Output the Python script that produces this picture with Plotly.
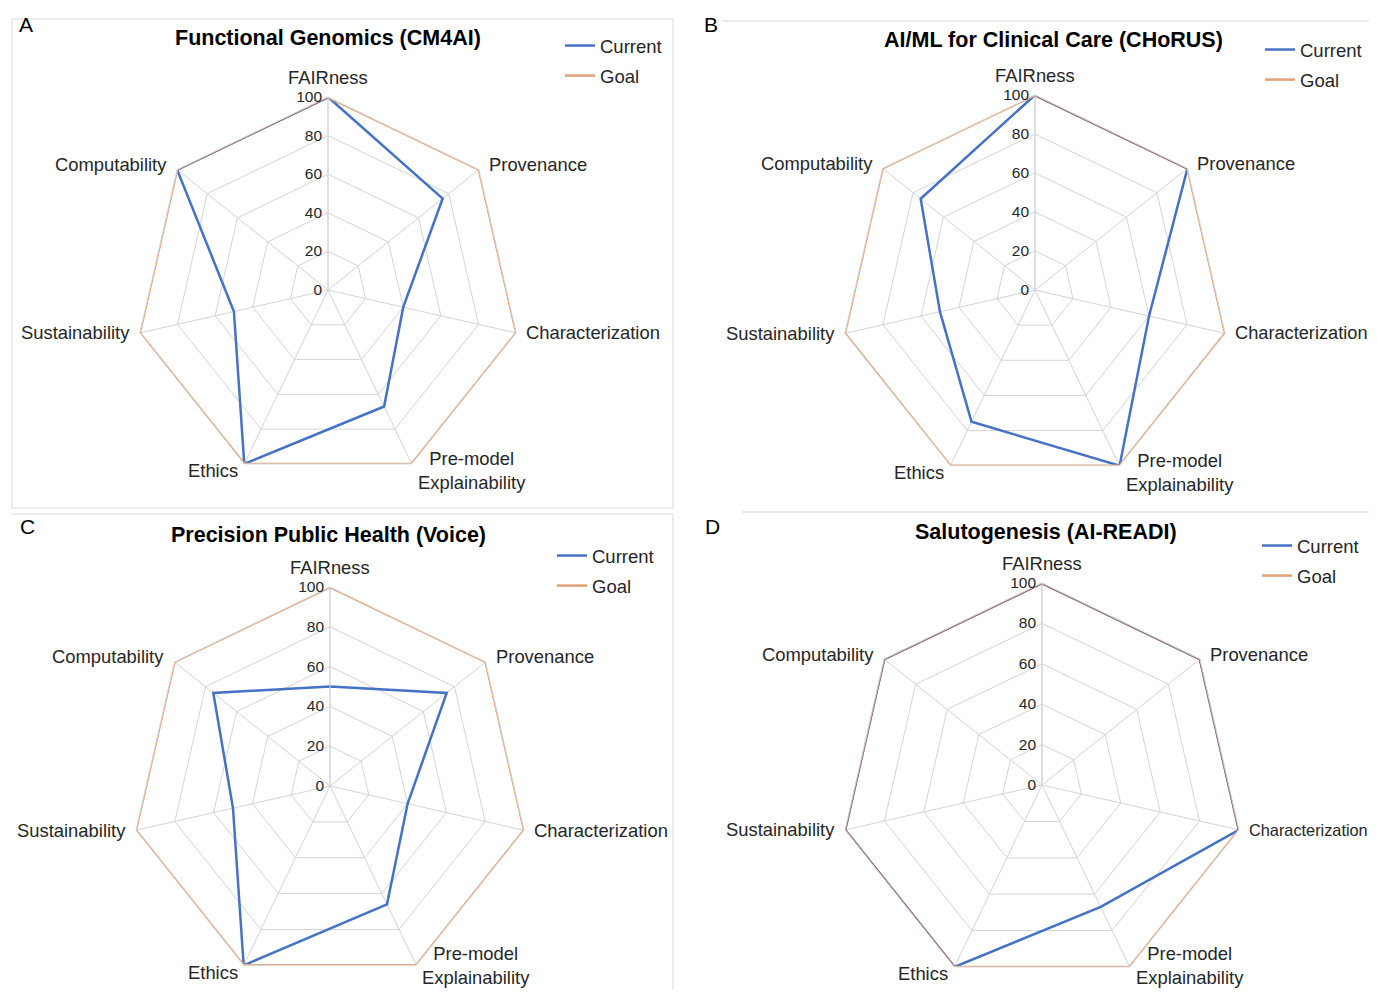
import math
import plotly.graph_objects as go

categories = ["FAIRness", "Provenance", "Characterization", "Pre-model<br>Explainability",
              "Ethics", "Sustainability", "Computability"]
radial_ticks = [0, 20, 40, 60, 80, 100]

titles = ["Functional Genomics (CM4AI)", "AI/ML for Clinical Care (CHoRUS)",
          "Precision Public Health (Voice)", "Salutogenesis (AI-READI)"]
panel_letters = ["A", "B", "C", "D"]

current_a = [100, 76, 40, 67, 100, 50, 100]
current_b = [100, 100, 60, 100, 75, 50, 75]
current_c = [50, 75, 40, 66, 100, 50, 75]
current_d = [100, 100, 100, 67, 100, 100, 100]
goal_a = [100, 100, 100, 100, 100, 100, 100]
goal_b = [100, 100, 100, 100, 100, 100, 100]
goal_c = [100, 100, 100, 100, 100, 100, 100]
goal_d = [100, 100, 100, 100, 100, 100, 100]

currents = [current_a, current_b, current_c, current_d]
goals = [goal_a, goal_b, goal_c, goal_d]

# page body has an 8px margin: draw into a figure that fits inside it
OFF = 8
W, H = 1377 - 2 * OFF, 998 - 2 * OFF
BLUE = "#4472C4"
GOAL = "#E2A276"
BOTH = "#8C6A80"   # where the two lines coincide
GRID = "#D4D4D4"
TEXT = "#262626"
FONT = "Liberation Sans, Arial, sans-serif"
LABEL_SIZE = 18.4


def px(x):
    return (x - OFF) / W


def py(y):
    return 1 - (y - OFF) / H


# polar domains in page pixels: (left, right, top, bottom)
dom_px = [(135, 521, 97, 483), (840, 1230, 95, 485), (131, 529, 587, 985), (840, 1244, 583, 987)]
title_px = [(328, 38), (1053, 40), (328, 535), (1046, 532)]
letter_px = [(26, 25), (711, 25), (27, 526), (712, 526)]
legend_px = [(560, 27), (1260, 31), (552, 537), (1257, 527)]

fig = go.Figure()
layout = dict(width=W, height=H, margin=dict(l=0, r=0, t=0, b=0, autoexpand=False),
              autosize=False, paper_bgcolor="white", plot_bgcolor="white",
              font=dict(family=FONT, color=TEXT))

annotations = []
n = len(categories)
for i in range(4):
    pname = "polar" if i == 0 else f"polar{i+1}"
    lname = "legend" if i == 0 else f"legend{i+1}"
    cats = categories + [categories[0]]
    cur = currents[i] + [currents[i][0]]
    gl = goals[i] + [goals[i][0]]
    # segments where the current line lies on the goal line
    both_r, both_t = [], []
    for k in range(n):
        if cur[k] == gl[k] and cur[k + 1] == gl[k + 1]:
            both_r += [cur[k], cur[k + 1], None]
            both_t += [cats[k], cats[k + 1], cats[k + 1]]
    fig.add_trace(go.Scatterpolar(r=cur, theta=cats, mode="lines", name="Current",
                                  legendgroup=f"cur{i}", legendrank=1,
                                  line=dict(color=BLUE, width=2.5), subplot=pname, legend=lname))
    fig.add_trace(go.Scatterpolar(r=gl, theta=cats, mode="lines", name="Goal",
                                  legendgroup=f"goal{i}", legendrank=2,
                                  line=dict(color=GOAL, width=2.5), subplot=pname, legend=lname))
    if both_r:
        fig.add_trace(go.Scatterpolar(r=both_r, theta=both_t, mode="lines", showlegend=False,
                                      connectgaps=False, hoverinfo="skip",
                                      line=dict(color=BOTH, width=2.5), subplot=pname))
    l, r, t, b = dom_px[i]
    layout[pname] = dict(
        domain=dict(x=[px(l), px(r)], y=[py(b), py(t)]),
        gridshape="linear", bgcolor="white",
        angularaxis=dict(rotation=90, direction="clockwise", categoryarray=categories,
                         categoryorder="array", linecolor=GRID, gridcolor=GRID,
                         showticklabels=False, ticks=""),
        radialaxis=dict(range=[0, 100], tickvals=radial_ticks, angle=90, tickangle=90,
                        side="counterclockwise", showline=True, linecolor=GRID,
                        gridcolor=GRID, tickfont=dict(size=15.5, color=TEXT), ticks=""),
    )
    # category labels placed beside the outer vertices, as in the source chart
    cx, cy, R = (l + r) / 2, (t + b) / 2, (r - l) / 2
    for k, name in enumerate(categories):
        th = 2 * math.pi * k / n
        s, c = math.sin(th), math.cos(th)
        vx, vy = cx + R * s, cy - R * c
        size = LABEL_SIZE
        if abs(s) < 0.1:
            ax, ay, xa, ya = vx, vy - 7, "center", "bottom"
        else:
            lower = c < -0.5
            gap = 4 if lower else 8
            ax = vx + gap if s > 0 else vx - gap
            xa = "left" if s > 0 else "right"
            ay = vy + (7 if lower else (-5 if c > 0.5 else 0))
            ya = "middle"
            # keep two-line labels inside the page
            nlines = name.count("<br>") + 1
            ay = min(ay, H + OFF - 2 - nlines * 11.5)
            # shrink a right-hand label that would run past the page edge
            if s > 0:
                longest = max(len(part) for part in name.split("<br>"))
                room = W + OFF - 3 - ax
                est = 0.456 * size * longest
                if est > room:
                    size = size * room / est
        annotations.append(dict(text=name, x=px(ax), y=py(ay), xref="paper", yref="paper",
                                showarrow=False, xanchor=xa, yanchor=ya, align="center",
                                font=dict(size=size, color=TEXT)))
    lx, ly = legend_px[i]
    layout[lname] = dict(x=px(lx), y=py(ly), xanchor="left", yanchor="top",
                         font=dict(size=18.5, color=TEXT), bgcolor="rgba(0,0,0,0)",
                         itemwidth=30, tracegroupgap=3)
    tx, ty = title_px[i]
    annotations.append(dict(text=f"<b>{titles[i]}</b>", x=px(tx), y=py(ty), xref="paper",
                            yref="paper", showarrow=False, xanchor="center", yanchor="middle",
                            font=dict(size=21.5, color="black")))
    lpx, lpy = letter_px[i]
    annotations.append(dict(text=panel_letters[i], x=px(lpx), y=py(lpy), xref="paper",
                            yref="paper", showarrow=False, xanchor="center", yanchor="middle",
                            font=dict(size=21, color="black")))

layout["annotations"] = annotations
border_segments = [
    (12, 19, 673, 19), (12, 19, 12, 508), (673, 19, 673, 508), (12, 508, 673, 508),
    (722, 21, 1377, 21),
    (12, 514, 673, 514), (673, 514, 673, 998),
    (742, 512, 1377, 512),
]
layout["shapes"] = [dict(type="line", xref="paper", yref="paper",
                         x0=px(x0), y0=py(y0), x1=px(x1), y1=py(y1),
                         line=dict(color="#D9D9D9", width=1), layer="below")
                    for (x0, y0, x1, y1) in border_segments]
fig.update_layout(**layout)
fig.write_html("out.html")
